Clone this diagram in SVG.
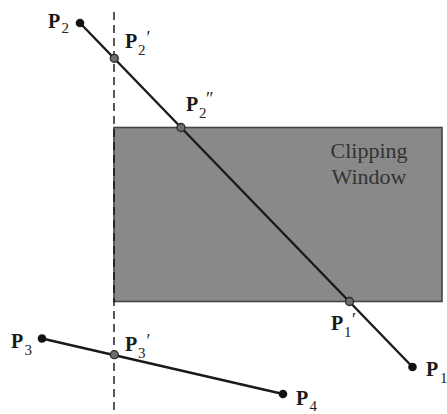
<svg xmlns="http://www.w3.org/2000/svg" width="447" height="414" viewBox="0 0 447 414">
<style>
text{font-family:'Liberation Serif','DejaVu Serif',serif}
.lbl{font-size:20px;font-weight:bold;fill:#1a1a1a}
.sub{font-size:15px;font-weight:normal;fill:#222}
.pr{font-size:18px;font-weight:normal;fill:#222}
.seg{stroke:#1a1a1a;stroke-width:2.4;fill:none}
.end{fill:#111}
.cut{fill:#6e6e6e;stroke:#2a2a2a;stroke-width:1.3}
.win{font-size:22px;fill:#333}
</style>
<rect width="447" height="414" fill="#fff"/>
<g id="window">
<rect x="114" y="127.5" width="328" height="174" fill="#898989" stroke="#444" stroke-width="1.6"/>
<text class="win" x="369" y="158" text-anchor="middle">Clipping</text>
<text class="win" x="369" y="184" text-anchor="middle">Window</text>
</g>
<g id="connectors">
<line x1="114" y1="12" x2="114" y2="414" stroke="#111" stroke-width="1.4" stroke-dasharray="8,5"/>
<line class="seg" x1="80" y1="23" x2="412.5" y2="367"/>
<line class="seg" x1="42" y1="338.5" x2="283" y2="394"/>
</g>
<g id="P2"><circle class="end" cx="80" cy="23" r="4.3"/><text class="lbl" x="48" y="28">P</text><text class="sub" x="61.5" y="33">2</text></g>
<g id="P2p"><circle class="cut" cx="114.3" cy="58.3" r="4"/><text class="lbl" x="125" y="48">P</text><text class="sub" x="138" y="55">2</text><text class="pr" x="146.5" y="44">′</text></g>
<g id="P2pp"><circle class="cut" cx="181" cy="127.5" r="4"/><text class="lbl" x="186" y="111">P</text><text class="sub" x="199" y="118">2</text><text class="pr" x="206" y="105">″</text></g>
<g id="P1p"><circle class="cut" cx="349.5" cy="301.5" r="4"/><text class="lbl" x="331" y="330">P</text><text class="sub" x="344" y="337">1</text><text class="pr" x="352" y="326">′</text></g>
<g id="P1"><circle class="end" cx="412.5" cy="367" r="4.3"/><text class="lbl" x="426" y="376">P</text><text class="sub" x="440" y="383">1</text></g>
<g id="P3"><circle class="end" cx="42" cy="338.5" r="4.3"/><text class="lbl" x="11" y="348">P</text><text class="sub" x="24.5" y="355">3</text></g>
<g id="P3p"><circle class="cut" cx="114.3" cy="354.7" r="4"/><text class="lbl" x="125" y="351">P</text><text class="sub" x="138" y="358">3</text><text class="pr" x="146.5" y="347">′</text></g>
<g id="P4"><circle class="end" cx="283" cy="394" r="4.3"/><text class="lbl" x="296" y="405">P</text><text class="sub" x="309.5" y="411">4</text></g>
</svg>
